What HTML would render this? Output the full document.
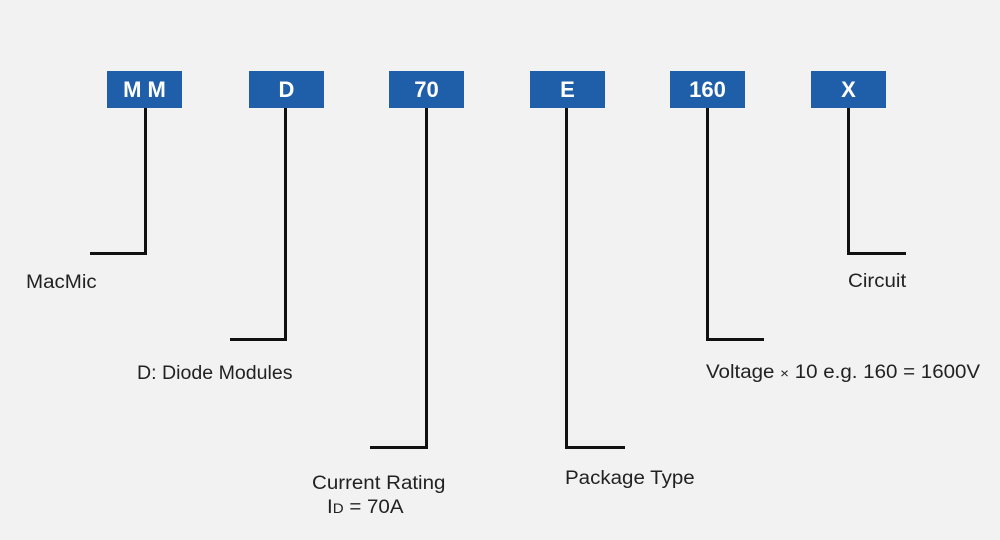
<!DOCTYPE html>
<html><head><meta charset="utf-8"><style>
body{margin:0;width:1000px;height:540px;background:#f2f2f2;position:relative;overflow:hidden;font-family:"Liberation Sans",Arial,sans-serif}
.b{position:absolute;top:71px;width:75px;height:37px;background:#1f5fa9;color:#fff;font-weight:bold;font-size:22px;line-height:37px;text-align:center}
.v{position:absolute;width:3px;background:#111}
.h{position:absolute;height:3px;background:#111}
.t{position:absolute;font-size:19px;color:#222;white-space:nowrap;transform:scaleX(1.08);transform-origin:left top}
</style></head><body>
<div class="b" style="left:107px">M M</div>
<div class="b" style="left:249px">D</div>
<div class="b" style="left:389px">70</div>
<div class="b" style="left:530px">E</div>
<div class="b" style="left:670px">160</div>
<div class="b" style="left:811px">X</div>

<div class="v" style="left:144px;top:108px;height:147px"></div>
<div class="h" style="left:90px;top:252px;width:57px"></div>
<div class="v" style="left:284px;top:108px;height:233px"></div>
<div class="h" style="left:230px;top:338px;width:57px"></div>
<div class="v" style="left:425px;top:108px;height:341px"></div>
<div class="h" style="left:370px;top:446px;width:58px"></div>
<div class="v" style="left:565px;top:108px;height:341px"></div>
<div class="h" style="left:565px;top:446px;width:60px"></div>
<div class="v" style="left:706px;top:108px;height:233px"></div>
<div class="h" style="left:706px;top:338px;width:58px"></div>
<div class="v" style="left:847px;top:108px;height:147px"></div>
<div class="h" style="left:847px;top:252px;width:59px"></div>

<div class="t" style="left:26px;top:272px">MacMic</div>
<div class="t" style="left:137px;top:363px;transform:scaleX(1.03)">D: Diode Modules</div>
<div class="t" style="left:312px;top:473px">Current Rating</div>
<div class="t" style="left:327px;top:497px">I<span style="font-size:14px">D</span> = 70A</div>
<div class="t" style="left:565px;top:468px">Package Type</div>
<div class="t" style="left:706px;top:362px">Voltage <span style="font-size:14px">×</span> 10 e.g. 160 = 1600V</div>
<div class="t" style="left:848px;top:271px">Circuit</div>
</body></html>
